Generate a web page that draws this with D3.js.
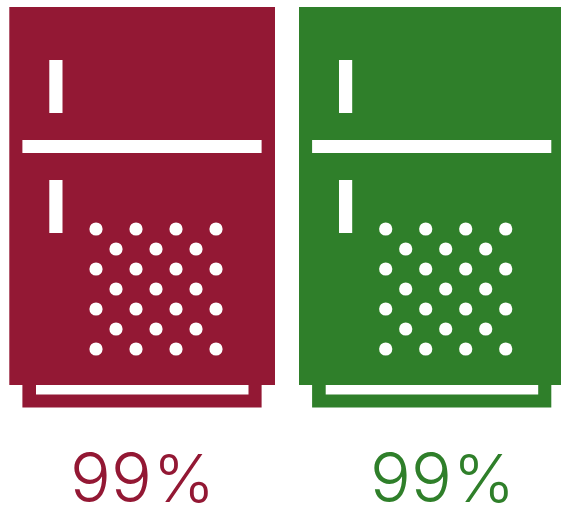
<!DOCTYPE html>
<html>
<head>
<meta charset="utf-8">
<script src="https://cdn.jsdelivr.net/npm/d3@7"></script>
<style>
  html, body { margin: 0; padding: 0; background: #fff; overflow: hidden; }
  svg { display: block; }
</style>
</head>
<body>
<svg id="chart" width="561" height="505"></svg>
<script>
// one fridge per value
const names = ["a", "b"];
const percents = [99, 99];
const colours = ["#931834", "#2f7f2a"];

// dot rows in the freezer door, columns counted in half steps
const dotRows = [0, 1, 2, 3, 4, 5, 6];
const dotCols = [0, 1, 2, 3, 4, 5, 6];

var svg = d3.select("#chart");

var fridgeX = d3.scaleOrdinal().domain(names).range([0, 289.7]);
var labelX = d3.scaleOrdinal().domain(names).range([70, 370]);
var dotX = d3.scaleLinear().domain([0, 6]).range([96, 216]);
var dotY = d3.scaleLinear().domain([0, 6]).range([229, 349]);

var dots = [];
dotRows.forEach(r => {
  dotCols.forEach(c => {
    if ((r + c) % 2 === 0) dots.push({r: r, c: c});
  });
});

var data = names.map((n, i) => ({name: n, value: percents[i], colour: colours[i]}));

var fridge = svg.selectAll(".fridge")
  .data(data)
  .enter().append("g")
  .attr("class", "fridge")
  .attr("transform", d => `translate(${fridgeX(d.name)},0)`);

// cabinet and plinth
fridge.append("rect")
  .attr("x", 9.3).attr("y", 7).attr("width", 265.7).attr("height", 378)
  .attr("fill", d => d.colour);
fridge.append("rect")
  .attr("x", 22.4).attr("y", 385).attr("width", 239.2).attr("height", 22.5)
  .attr("fill", d => d.colour);

// white cut-outs
var cuts = [
  [36, 385, 212.5, 9.5],
  [22.4, 140, 239.2, 13],
  [49.3, 60, 13.2, 53],
  [49.3, 180, 13.2, 53]
];
fridge.selectAll(".cut")
  .data(cuts)
  .enter().append("rect")
  .attr("class", "cut")
  .attr("x", d => d[0]).attr("y", d => d[1])
  .attr("width", d => d[2]).attr("height", d => d[3])
  .attr("fill", "#fff");

fridge.selectAll(".dot")
  .data(dots)
  .enter().append("circle")
  .attr("class", "dot")
  .attr("cx", d => dotX(d.c))
  .attr("cy", d => dotY(d.r))
  .attr("r", 6.6)
  .attr("fill", "#fff");

var label = svg.selectAll(".label")
  .data(data)
  .enter().append("text")
  .attr("class", "label")
  .attr("y", 502)
  .attr("fill", d => d.colour)
  .style("font-family", "Inter, Roboto, sans-serif")
  .style("font-weight", 300)
  .style("font-size", "68px");
label.append("tspan").attr("x", d => labelX(d.name)).text(d => d.value);
label.append("tspan").attr("x", d => labelX(d.name) + 83).style("font-size", "66px").text("%");
</script>
</body>
</html>
